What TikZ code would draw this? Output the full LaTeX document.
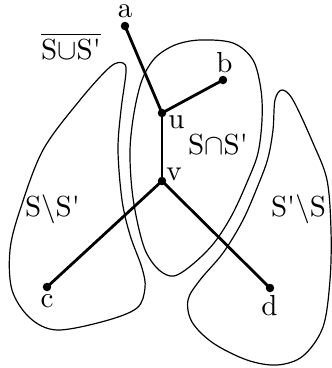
\documentclass[tikz,border=0pt]{standalone}
\usepackage{graphicx}
\newcommand{\bigtxt}[1]{\scalebox{2.9}{#1}}
\begin{document}
\begin{tikzpicture}[x=1pt,y=-1pt,
  edge/.style={line width=2.8pt},
  setline/.style={line width=1.2pt},
  dot/.style={circle,fill,inner sep=0pt,minimum size=8.5pt},
  lbl/.style={anchor=base,inner sep=0pt,font=\fontsize{10}{12}\selectfont}]
\useasboundingbox (0,0) rectangle (332,368);
% set S
\draw[setline] plot[smooth cycle, tension=0.55] coordinates {
  (123,63) (126,72) (121,110) (118,150) (122,200) (130,235) (142,268)
  (145,288) (137,308) (105,321) (57,330) (30,318) (12,290) (10,250)
  (20,210) (43,150) (80,100) (110,67)};
% set S' (middle)
\draw[setline] plot[smooth cycle, tension=0.55] coordinates {
  (200,40) (233,43) (253,60) (261,90) (262,120) (258,153) (248,180)
  (232,215) (214,243) (193,264) (174,276) (159,270) (146,252) (138,225)
  (132,190) (130,150) (134,113) (142,80) (155,58) (175,45)};
% right set
\draw[setline] plot[smooth cycle, tension=0.55] coordinates {
  (282,90) (293,100) (313,143) (327,180) (331,230) (330,280) (323,327)
  (303,356) (277,365) (247,360) (213,343) (192,322) (188,300) (200,280)
  (223,253) (243,220) (259,183) (268,158) (273,130) (275,100)};
% vertices
\node[dot] (a) at (125,26) {};
\node[dot] (b) at (223,80) {};
\node[dot] (u) at (162,113) {};
\node[dot] (v) at (162,181) {};
\node[dot] (c) at (47,287) {};
\node[dot] (d) at (270,288) {};
\draw[edge] (a.center) -- (u.center);
\draw[edge] (b.center) -- (u.center);
\draw[edge] (u.center) -- (v.center);
\draw[edge] (v.center) -- (c.center);
\draw[edge] (v.center) -- (d.center);
% vertex labels
\node[lbl] (la) at (125,17) {\bigtxt{a}};
\node[lbl] (lb) at (224.5,72) {\bigtxt{b}};
\node[lbl] (lu) at (176.5,128) {\bigtxt{u}};
\node[lbl] (lv) at (174,180) {\bigtxt{v}};
\node[lbl] (lc) at (47,307) {\bigtxt{c}};
\node[lbl] (ld) at (269.5,315) {\bigtxt{d}};
% set labels
\node[lbl] (lunion) at (71,59) {\bigtxt{$\overline{\mbox{S$\cup$S\textquotesingle}}$}};
\node[lbl] (linter) at (218,154.5) {\bigtxt{S$\cap$S\textquotesingle}};
\node[lbl] (lsdiff) at (52.5,216.5) {\bigtxt{S\textbackslash S\textquotesingle}};
\node[lbl] (lsdiff2) at (298.5,216.5) {\bigtxt{S\textquotesingle\textbackslash S}};
\end{tikzpicture}
\end{document}
